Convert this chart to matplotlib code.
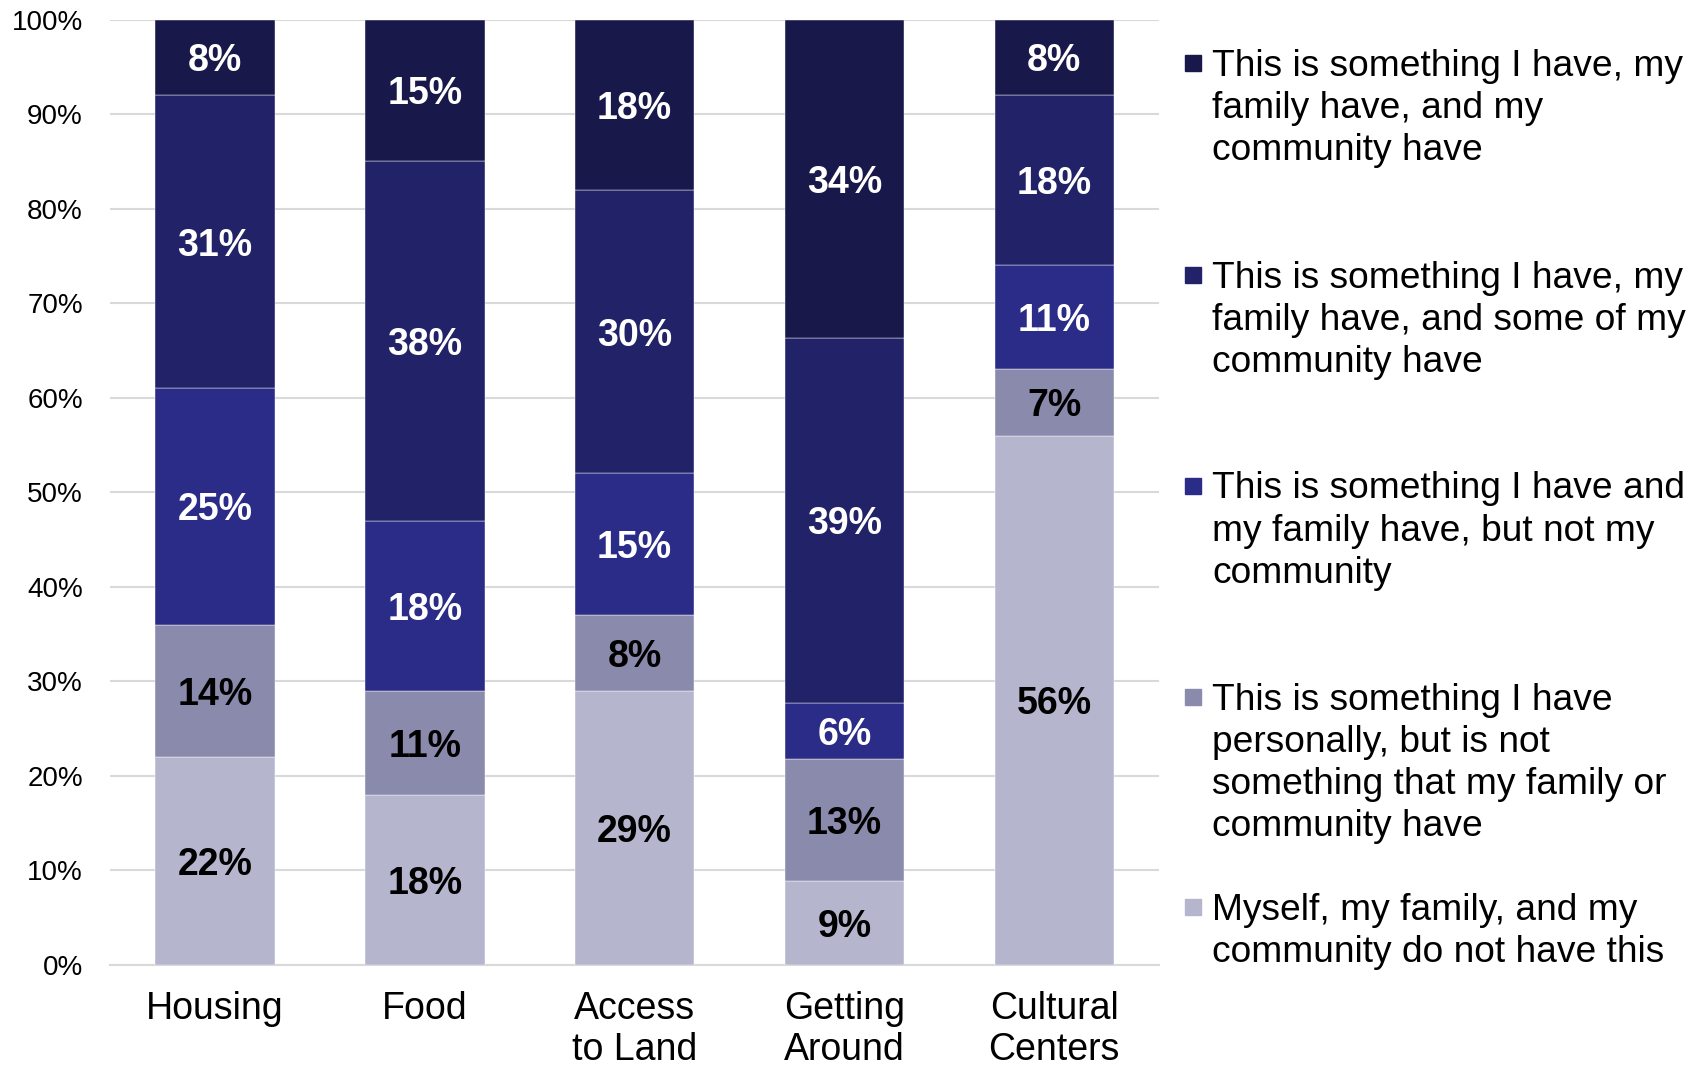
import matplotlib
matplotlib.use("Agg")
import matplotlib.pyplot as plt
import numpy as np
from matplotlib.patches import Rectangle

plt.rcParams['font.family'] = ['Liberation Sans', 'DejaVu Sans']

categories = ["Housing", "Food", "Access\nto Land", "Getting\nAround", "Cultural\nCenters"]
series_names = [
    "Myself, my family, and my\ncommunity do not have this",
    "This is something I have\npersonally, but is not\nsomething that my family or\ncommunity have",
    "This is something I have and\nmy family have, but not my\ncommunity",
    "This is something I have, my\nfamily have, and some of my\ncommunity have",
    "This is something I have, my\nfamily have, and my\ncommunity have",
]
values = [
    [22, 18, 29, 9, 56],
    [14, 11, 8, 13, 7],
    [25, 18, 15, 6, 11],
    [31, 38, 30, 39, 18],
    [8, 15, 18, 34, 8],
]
colors = ["#B5B6CD", "#8A8AAD", "#2B2B88", "#222268", "#19184A"]
label_colors = ["black", "black", "white", "white", "white"]

vals = np.array(values, dtype=float)
totals = vals.sum(axis=0)
shares = vals / totals * 100

fig = plt.figure(figsize=(17.06, 10.66), dpi=100)
ax = fig.add_axes([0.0645, 0.0947, 0.615, 0.887])

x = np.arange(len(categories))
bottom = np.zeros(len(categories))
for i in range(len(values)):
    ax.bar(x, shares[i], 0.57, bottom=bottom, color=colors[i],
           edgecolor='#ffffff', linewidth=0.3, zorder=3)
    for j in range(len(categories)):
        ax.text(x[j], bottom[j] + shares[i][j] / 2, f"{values[i][j]}%",
                ha='center', va='center_baseline', fontsize=27, fontweight='bold',
                color=label_colors[i], zorder=4)
    bottom += shares[i]

ax.set_xlim(-0.5, len(categories) - 0.5)
ax.set_ylim(0, 100)
ax.set_yticks(np.arange(0, 101, 10))
ax.set_yticklabels([f"{v}%" for v in range(0, 101, 10)], fontsize=20)
ax.set_xticks(x)
ax.set_xticklabels(categories, fontsize=27, linespacing=1.17)
ax.tick_params(axis='y', length=0, pad=19.5)
ax.tick_params(axis='x', length=0, pad=19)
ax.grid(axis='y', color='#D9D9D9', linewidth=1.5, zorder=0)
for s in ['top', 'right', 'left']:
    ax.spines[s].set_visible(False)
ax.spines['bottom'].set_color('#D9D9D9')
ax.spines['bottom'].set_linewidth(1.5)

# legend (top to bottom: darkest first)
W, H = 1706, 1066
leg_first_line_y = [63, 275, 486, 697, 907]
order = [4, 3, 2, 1, 0]
for k, idx in enumerate(order):
    yc = leg_first_line_y[k]
    fig.patches.append(Rectangle((1185 / W, 1 - (yc + 8) / H), 16 / W, 16 / H,
                                 transform=fig.transFigure, color=colors[idx]))
    fig.text(1212 / W, 1 - (yc - 14.5) / H, series_names[idx], fontsize=26.7,
             va='top', ha='left', linespacing=1.26)

fig.savefig("out.png", dpi=100)
